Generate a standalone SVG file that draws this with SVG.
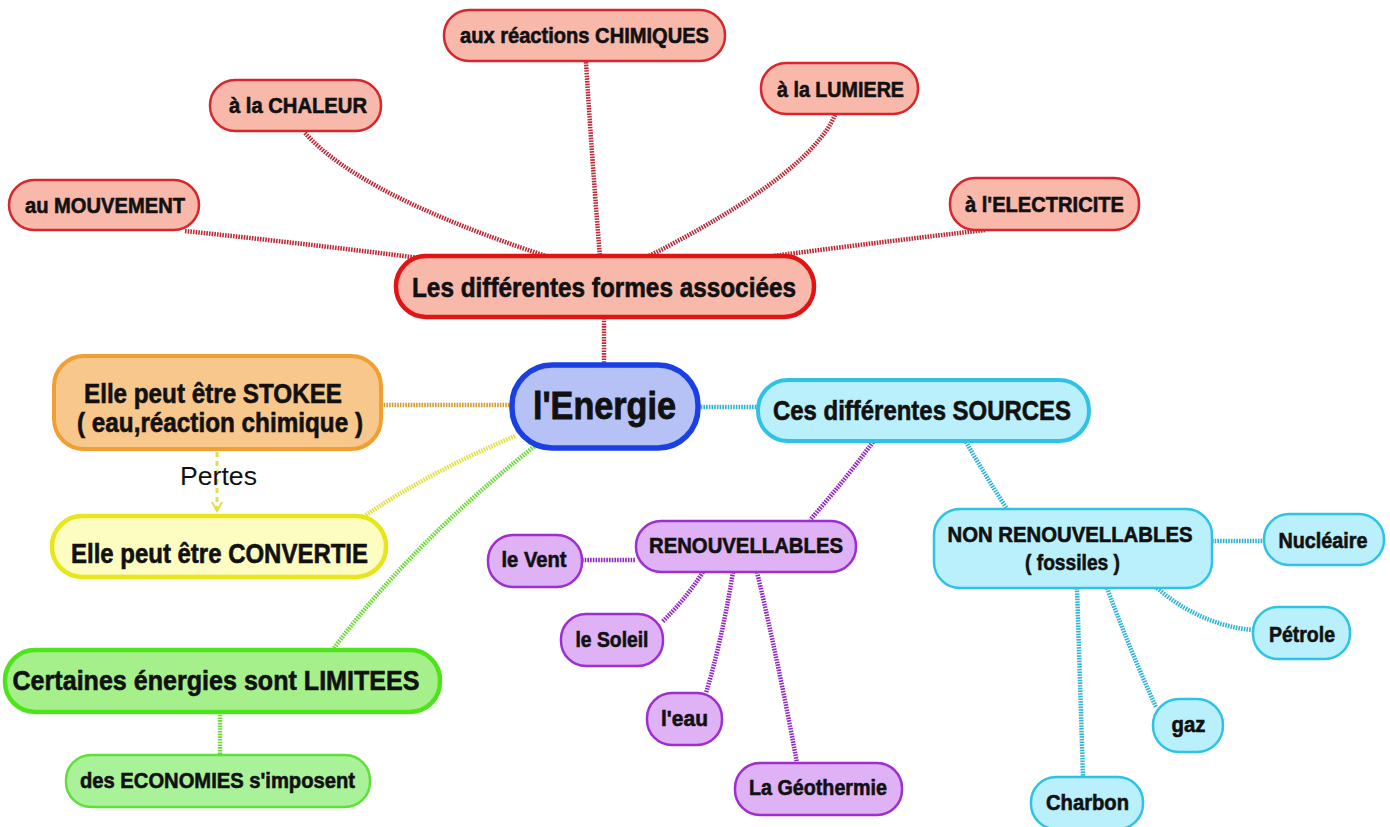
<svg xmlns="http://www.w3.org/2000/svg" width="1390" height="827" viewBox="0 0 1390 827">
<defs>
<style>
text{font-family:"Liberation Sans",Arial,sans-serif;font-weight:bold;fill:#111;stroke:#111;stroke-width:0.6;text-anchor:middle}
.t20{font-size:22px}
.t24{font-size:27px}
.red{fill:#f8b9ab;stroke:#d8262c;stroke-width:2.5}
.redB{fill:#f8b9ab;stroke:#e01414;stroke-width:4.5}
.pur{fill:#dfb2f6;stroke:#9e2ed0;stroke-width:2.5}
.cya{fill:#b9f0fb;stroke:#2ec3e6;stroke-width:2.5}
.cyaB{fill:#b9f0fb;stroke:#2ec3e6;stroke-width:4}
.grn{fill:#aaf29a;stroke:#5ee03a;stroke-width:2.5}
.grnB{fill:#a6f08c;stroke:#4ee41c;stroke-width:4.5}
.c{fill:none;stroke-width:4.5;stroke-dasharray:1.6 1.1}
.cr{stroke:#bc2a38}
.cp{stroke:#9228c4}
.cc{stroke:#2eb4d6}
.cg{stroke:#6cd83a}
.cy{stroke:#e0e044}
.co{stroke:#d69c34}
</style>
<marker id="arr" viewBox="0 0 12 12" refX="10" refY="6" markerWidth="12" markerHeight="12" markerUnits="userSpaceOnUse" orient="auto">
<path d="M1,1 L10,6 L1,11" fill="none" stroke="#e0e04a" stroke-width="2"/>
</marker>
</defs>
<rect width="1390" height="827" fill="#ffffff"/>

<g id="connectors">
<path class="c cr" d="M185,231 Q300,243 420,258"/>
<path class="c cr" d="M305,133 Q360,195 549,257"/>
<path class="c cr" d="M586,62 Q592,160 600,257"/>
<path class="c cr" d="M835,115 Q809,175 647,257"/>
<path class="c cr" d="M985,230 Q880,242 773,256"/>
<path class="c cr" d="M604,318 L604,364"/>
<path class="c co" d="M381,405 L512,405"/>
<path class="c cy" d="M366,515 Q430,472 515,436"/>
<path class="c cg" d="M334,648 Q415,540 535,446"/>
<path class="c cg" d="M220,712 L220,755"/>
<path class="c cc" d="M698,407 L758,407"/>
<path class="c cp" d="M873,442 Q845,480 810,520"/>
<path class="c cc" d="M966,442 Q985,475 1007,509"/>
<path class="c cp" d="M582,560 L636,560"/>
<path class="c cp" d="M703,572 Q685,600 662,622"/>
<path class="c cp" d="M733,572 Q722,640 706,693"/>
<path class="c cp" d="M757,572 Q780,670 797,763"/>
<path class="c cc" d="M1212,541 L1264,541"/>
<path class="c cc" d="M1157,588 Q1200,625 1253,630"/>
<path class="c cc" d="M1107,588 Q1130,650 1156,707"/>
<path class="c cc" d="M1077,588 Q1080,680 1083,777"/>
<path d="M217,452 L217,511" fill="none" stroke="#e0e04a" stroke-width="3" stroke-dasharray="5 4" marker-end="url(#arr)"/>
</g>

<g id="n-chimiques"><rect class="red" x="444" y="10" width="281" height="51" rx="25"/><text class="t20" x="584.5" y="43" textLength="249" lengthAdjust="spacingAndGlyphs">aux réactions CHIMIQUES</text></g>
<g id="n-chaleur"><rect class="red" x="210" y="80" width="171" height="51" rx="25"/><text class="t20" x="298" y="113" textLength="138" lengthAdjust="spacingAndGlyphs">à la CHALEUR</text></g>
<g id="n-mouvement"><rect class="red" x="9" y="180" width="190" height="50" rx="25"/><text class="t20" x="105" y="213" textLength="160" lengthAdjust="spacingAndGlyphs">au MOUVEMENT</text></g>
<g id="n-lumiere"><rect class="red" x="761" y="63" width="157" height="51" rx="25"/><text class="t20" x="840.5" y="97" textLength="127" lengthAdjust="spacingAndGlyphs">à la LUMIERE</text></g>
<g id="n-electricite"><rect class="red" x="950" y="178" width="189" height="52" rx="25"/><text class="t20" x="1044.5" y="212" textLength="159" lengthAdjust="spacingAndGlyphs">à l'ELECTRICITE</text></g>
<g id="n-formes"><rect class="redB" x="396" y="256" width="418" height="61" rx="30"/><text class="t24" x="604" y="297" textLength="384" lengthAdjust="spacingAndGlyphs">Les différentes formes associées</text></g>

<g id="n-energie"><rect x="512" y="365" width="186" height="83" rx="40" fill="#b6c2f5" stroke="#1a40e4" stroke-width="5.5"/><text x="604.5" y="419" style="font-size:39px;stroke-width:0.9" textLength="143" lengthAdjust="spacingAndGlyphs">l'Energie</text></g>

<g id="n-stokee"><rect x="54" y="356" width="327" height="93" rx="30" fill="#f8c78c" stroke="#f0a032" stroke-width="4"/><text class="t24" x="213" y="403" textLength="258" lengthAdjust="spacingAndGlyphs">Elle peut être STOKEE</text><text class="t24" x="220" y="432" textLength="286" lengthAdjust="spacingAndGlyphs">( eau,réaction chimique )</text></g>
<g id="n-pertes"><text x="218.5" y="485" style="font-size:26px;font-weight:normal;stroke-width:0" textLength="77" lengthAdjust="spacingAndGlyphs">Pertes</text></g>
<g id="n-convertie"><rect x="52" y="516" width="334" height="61" rx="30" fill="#fdfdc2" stroke="#e6e61a" stroke-width="4.5"/><text class="t24" x="219.5" y="563" textLength="297" lengthAdjust="spacingAndGlyphs">Elle peut être CONVERTIE</text></g>
<g id="n-limitees"><rect class="grnB" x="5" y="650" width="435" height="62" rx="30"/><text class="t24" x="216" y="690" textLength="407" lengthAdjust="spacingAndGlyphs">Certaines énergies sont LIMITEES</text></g>
<g id="n-economies"><rect class="grn" x="66" y="755" width="304" height="52" rx="25"/><text class="t20" x="217.5" y="788" textLength="275" lengthAdjust="spacingAndGlyphs">des ECONOMIES s'imposent</text></g>

<g id="n-sources"><rect class="cyaB" x="758" y="380" width="331" height="61" rx="30"/><text class="t24" x="922" y="420" textLength="298" lengthAdjust="spacingAndGlyphs">Ces différentes SOURCES</text></g>
<g id="n-renouv"><rect class="pur" x="636" y="521" width="220" height="51" rx="25"/><text class="t20" x="746" y="553" textLength="194" lengthAdjust="spacingAndGlyphs">RENOUVELLABLES</text></g>
<g id="n-vent"><rect class="pur" x="488" y="535" width="94" height="52" rx="25"/><text class="t20" x="534" y="567" textLength="65" lengthAdjust="spacingAndGlyphs">le Vent</text></g>
<g id="n-soleil"><rect class="pur" x="561" y="614" width="102" height="52" rx="25"/><text class="t20" x="612" y="647" textLength="73" lengthAdjust="spacingAndGlyphs">le Soleil</text></g>
<g id="n-eau"><rect class="pur" x="647" y="693" width="75" height="52" rx="25"/><text class="t20" x="684.5" y="726" textLength="47" lengthAdjust="spacingAndGlyphs">l'eau</text></g>
<g id="n-geo"><rect class="pur" x="735" y="763" width="167" height="52" rx="25"/><text class="t20" x="818" y="795" textLength="138" lengthAdjust="spacingAndGlyphs">La Géothermie</text></g>
<g id="n-nonrenouv"><rect class="cya" x="934" y="509" width="278" height="79" rx="26"/><text class="t20" x="1070" y="542" textLength="245" lengthAdjust="spacingAndGlyphs">NON RENOUVELLABLES</text><text class="t20" x="1072.5" y="570" textLength="95" lengthAdjust="spacingAndGlyphs">( fossiles )</text></g>
<g id="n-nucleaire"><rect class="cya" x="1264" y="514" width="120" height="51" rx="25"/><text class="t20" x="1323" y="548" textLength="89" lengthAdjust="spacingAndGlyphs">Nucléaire</text></g>
<g id="n-petrole"><rect class="cya" x="1253" y="607" width="97" height="52" rx="25"/><text class="t20" x="1302" y="642" textLength="66" lengthAdjust="spacingAndGlyphs">Pétrole</text></g>
<g id="n-gaz"><rect class="cya" x="1153" y="699" width="70" height="53" rx="26"/><text class="t20" x="1188.5" y="732" textLength="34" lengthAdjust="spacingAndGlyphs">gaz</text></g>
<g id="n-charbon"><rect class="cya" x="1031" y="777" width="112" height="52" rx="25"/><text class="t20" x="1087.5" y="810" textLength="83" lengthAdjust="spacingAndGlyphs">Charbon</text></g>
</svg>
